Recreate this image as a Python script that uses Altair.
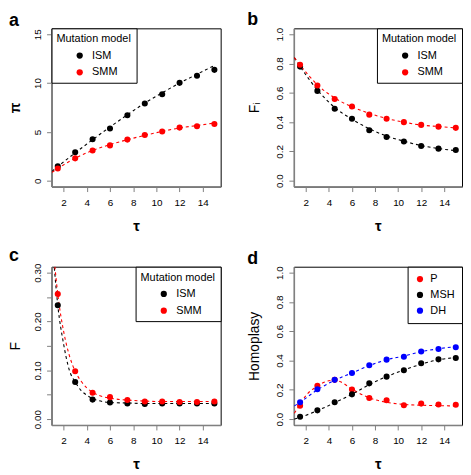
import altair as alt
import pandas as pd

# ---------------- data ----------------
tau = [1.5, 3, 4.5, 6, 7.5, 9, 10.5, 12, 13.5, 15]
fit_tau = [1, 1.5, 3, 4.5, 6, 7.5, 9, 10.5, 12, 13.5, 15]

# panel a: pi
pi_ism = [1.49, 2.92, 4.25, 5.34, 6.70, 7.90, 8.86, 10.02, 10.75, 11.35]
pi_smm = [1.26, 2.29, 3.09, 3.62, 4.21, 4.68, 5.04, 5.44, 5.58, 5.81]
pi_ism_fit = [0.95, 1.45, 2.85, 4.2, 5.5, 6.75, 7.95, 9.0, 10.0, 10.9, 11.8]
pi_smm_fit = [0.85, 1.25, 2.3, 3.1, 3.7, 4.2, 4.65, 5.05, 5.4, 5.65, 5.9]

# panel b: F_I
fi_ism = [0.779, 0.613, 0.491, 0.423, 0.345, 0.299, 0.268, 0.237, 0.219, 0.210]
fi_smm = [0.792, 0.650, 0.558, 0.507, 0.451, 0.423, 0.400, 0.381, 0.369, 0.361]
fi_ism_fit = [0.84, 0.78, 0.62, 0.50, 0.42, 0.355, 0.305, 0.27, 0.24, 0.22, 0.205]
fi_smm_fit = [0.84, 0.79, 0.655, 0.565, 0.505, 0.46, 0.425, 0.40, 0.38, 0.37, 0.36]

# panel c: F
f_ism = [0.233, 0.076, 0.040, 0.034, 0.032, 0.031, 0.032, 0.032, 0.032, 0.032]
f_smm = [0.256, 0.098, 0.054, 0.045, 0.039, 0.036, 0.036, 0.035, 0.035, 0.036]
f_fit_tau = [1.2, 1.5, 2, 2.5, 3, 3.5, 4, 4.5, 5, 6, 7.5, 9, 10.5, 12, 13.5, 15]
f_ism_fit = [0.31, 0.233, 0.154, 0.10, 0.076, 0.059, 0.049, 0.042, 0.038, 0.034,
             0.033, 0.032, 0.032, 0.032, 0.032, 0.032]
f_smm_fit = [0.325, 0.256, 0.18, 0.13, 0.098, 0.078, 0.064, 0.055, 0.049, 0.043,
             0.039, 0.037, 0.036, 0.036, 0.036, 0.036]

# panel d: homoplasy
h_p = [0.091, 0.228, 0.268, 0.202, 0.144, 0.129, 0.095, 0.106, 0.100, 0.098]
h_msh = [0.016, 0.060, 0.115, 0.169, 0.244, 0.290, 0.333, 0.381, 0.408, 0.417]
h_dh = [0.115, 0.204, 0.268, 0.315, 0.368, 0.406, 0.426, 0.461, 0.479, 0.490]
h_p_fit_tau = [1, 1.5, 2, 3, 4, 4.5, 5, 6, 7.5, 9, 10.5, 12, 13.5, 15]
h_p_fit = [0.04, 0.10, 0.16, 0.225, 0.262, 0.265, 0.255, 0.205, 0.145, 0.115,
           0.10, 0.095, 0.092, 0.09]
h_msh_fit = [0.0, 0.012, 0.058, 0.112, 0.17, 0.235, 0.29, 0.335, 0.375, 0.405, 0.42]
h_dh_fit = [0.09, 0.115, 0.2, 0.265, 0.315, 0.365, 0.405, 0.43, 0.46, 0.48, 0.495]

models = ["ISM", "SMM"]
model_colors = ["#000000", "#FF0000"]
homo_series = ["P", "MSH", "DH"]
homo_colors = ["#FF0000", "#000000", "#0000FF"]

x_ticks = [2, 4, 6, 8, 10, 12, 14]
FONT = "Liberation Sans"


def frame(xs_list, ys_list, names):
    rows = []
    for xs, ys, n in zip(xs_list, ys_list, names):
        for xv, yv in zip(xs, ys):
            rows.append({"tau": xv, "val": yv, "series": n})
    return pd.DataFrame(rows)


def panel(letter, pts, fit, ytitle, ydom, yvals, ylabelexpr, ytitle_bold,
          legend, sdomain, srange, right_col, width):
    xenc = alt.X("tau:Q",
                 scale=alt.Scale(domain=[0.96, 15.54], nice=False, zero=False),
                 axis=alt.Axis(values=x_ticks, title="τ", titleFontWeight="bold",
                               titleFontSize=15, labelPadding=6, titlePadding=11))
    yaxis = dict(values=yvals, title=ytitle, labelAngle=270, labelPadding=4,
                 titlePadding=14 if right_col else 10, titleFontSize=14,
                 titleFontWeight="bold" if ytitle_bold else "normal")
    if ylabelexpr:
        yaxis["labelExpr"] = ylabelexpr
    yenc = alt.Y("val:Q", scale=alt.Scale(domain=ydom, nice=False, zero=False),
                 axis=alt.Axis(**yaxis))
    lines = alt.Chart(fit).mark_line(strokeDash=[3, 3], strokeWidth=1.1, clip=True,
                                     interpolate="monotone").encode(
        x=xenc, y=yenc,
        stroke=alt.Stroke("series:N", scale=alt.Scale(domain=sdomain, range=srange),
                          legend=None))
    points = alt.Chart(pts).mark_circle(size=38, opacity=1).encode(
        x=xenc, y=yenc,
        color=alt.Color("series:N", scale=alt.Scale(domain=sdomain, range=srange),
                        legend=legend))
    return alt.layer(lines, points).properties(
        width=width, height=160,
        title=alt.TitleParams(text=letter, anchor="start", frame="bounds",
                              fontSize=18, fontWeight="bold", font=FONT,
                              color="black", offset=-2)
    ).resolve_scale(color="independent", stroke="independent")


def model_legend(orient):
    return alt.Legend(title="Mutation model", orient=orient, offset=0,
                      strokeColor="black", fillColor="white", padding=5,
                      cornerRadius=0, titleFontSize=11, titleFontWeight="normal",
                      titlePadding=6, labelFontSize=11, rowPadding=5,
                      symbolSize=40, symbolOffset=18, labelOffset=7,
                      symbolStrokeWidth=0)


pa = panel("a", frame([tau, tau], [pi_ism, pi_smm], models),
           frame([fit_tau, fit_tau], [pi_ism_fit, pi_smm_fit], models),
           "π", [-0.6, 15.6], [0, 5, 10, 15], None, True,
           model_legend("top-left"), models, model_colors, False, 171)

pb = panel("b", frame([tau, tau], [fi_ism, fi_smm], models),
           frame([fit_tau, fit_tau], [fi_ism_fit, fi_smm_fit], models),
           "Fᵢ", [-0.04, 1.04], [0, 0.2, 0.4, 0.6, 0.8, 1.0],
           "format(datum.value, '.1f')", False,
           model_legend("top-right"), models, model_colors, True, 170)

pc = panel("c", frame([tau, tau], [f_ism, f_smm], models),
           frame([f_fit_tau, f_fit_tau], [f_ism_fit, f_smm_fit], models),
           "F", [-0.012, 0.312], [0, 0.05, 0.1, 0.15, 0.2, 0.25, 0.3],
           "round(datum.value * 100) % 10 == 0 ? format(datum.value, '.2f') : ''",
           False, model_legend("top-right"), models, model_colors, False, 171)

pd_ = panel("d", frame([tau, tau, tau], [h_p, h_msh, h_dh], homo_series),
            frame([h_p_fit_tau, fit_tau, fit_tau], [h_p_fit, h_msh_fit, h_dh_fit],
                  homo_series),
            "Homoplasy", [-0.04, 1.04], [0, 0.2, 0.4, 0.6, 0.8, 1.0],
            "format(datum.value, '.1f')", False,
            alt.Legend(title=None, orient="top-right", offset=0,
                       strokeColor="black", fillColor="white", padding=7,
                       cornerRadius=0, labelFontSize=11, rowPadding=4,
                       symbolSize=40, labelOffset=5, symbolStrokeWidth=0),
            homo_series, homo_colors, True, 170)

chart = alt.vconcat(
    alt.hconcat(pa, pb, spacing=25).resolve_scale(color="independent",
                                                  stroke="independent"),
    alt.hconcat(pc, pd_, spacing=25).resolve_scale(color="independent",
                                                   stroke="independent"),
    spacing=12,
).resolve_scale(color="independent", stroke="independent").properties(
    padding=0
).configure_view(
    stroke="black", strokeWidth=1
).configure_axis(
    labelFont=FONT, titleFont=FONT, labelFontSize=10, labelColor="black",
    titleColor="black", grid=False, tickSize=5, tickColor="#808080",
    domainColor="#808080", domainWidth=1.5
).configure_legend(
    labelFont=FONT, titleFont=FONT, labelColor="black", titleColor="black"
)

chart.save("out.html", embed_options={"renderer": "svg", "actions": False})
